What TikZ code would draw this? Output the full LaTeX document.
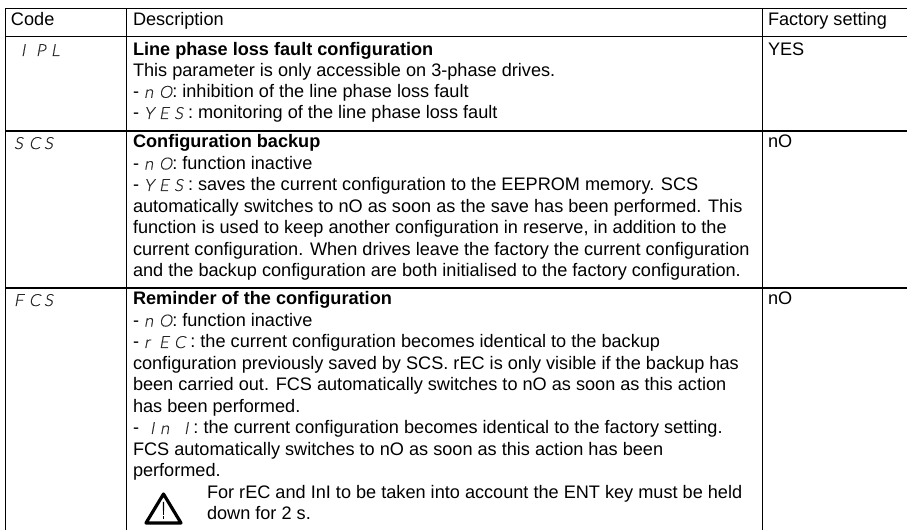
\documentclass[tikz,border=0pt]{standalone}
\usepackage{fontspec}
\setmainfont{Liberation Sans}
\newfontfamily\segf{Lato Light}[FakeSlant=0.18,FakeBold=0.6]
\newcommand{\sgc}[2][11.25pt]{\makebox[#1][l]{#2}}
\newcommand{\sg}[1]{{\segf\fontsize{12.5pt}{13pt}\selectfont\color{black!85}#1}}
\tikzset{
  px/.style={x=0.75pt,y=-0.75pt},
  rulex/.style={line width=0.95pt,black},
  txt/.style={anchor=base west,inner sep=0pt,outer sep=0pt,font=\fontsize{13.6pt}{16pt}\selectfont,text=black},
  seg/.style={anchor=base west,inner sep=0pt,outer sep=0pt,text=black}
}
\begin{document}
\begin{tikzpicture}[px]
\useasboundingbox (0,0) rectangle (907,530);
\fill[white] (0,0) rectangle (907,530);
\draw[rulex] (5.5,8.5) -- (907,8.5);
\draw[rulex] (5.5,36.5) -- (907,36.5);
\draw[rulex] (5.5,131) -- (907,131);
\draw[rulex] (5.5,288) -- (907,288);
\draw[rulex] (5.5,8.5) -- (5.5,530);
\draw[rulex] (126.5,8.5) -- (126.5,530);
\draw[rulex] (762.5,8.5) -- (762.5,530);
\node[txt] (h1) at (11,25.5) {Code};
\node[txt] (h2) at (133,25.5) {Description};
\node[txt] (h3) at (768,25.5) {Factory setting};
\node[seg] (c1) at (21,56) {\sg{\sgc{I}\sgc{P}L}};
\node[seg] (c2) at (14,149) {\sg{\sgc{S}\sgc{C}S}};
\node[seg] (c3) at (14,306) {\sg{\sgc{F}\sgc{C}S}};
\node[txt] (f1) at (768,55.5) {YES};
\node[txt] (f2) at (768,148) {nO};
\node[txt] (f3) at (768,305) {nO};
\node[txt] (a1) at (133,55.5) {\bfseries Line phase loss fault configuration};
\node[txt] (a2) at (133,76.5) {This parameter is only accessible on 3-phase drives.};
\node[txt] (a3) at (133,97.8) {- \sg{\sgc{n}O}: inhibition of the line phase loss fault};
\node[txt] (a4) at (133,119) {- \sg{\sgc{Y}\sgc{E}S} : monitoring of the line phase loss fault};
\node[txt] (b1) at (133,148) {\bfseries Configuration backup};
\node[txt] (b2) at (133,169.5) {- \sg{\sgc{n}O}: function inactive};
\node[txt] (b3) at (133,191) {- \sg{\sgc{Y}\sgc{E}S} : saves the current configuration to the EEPROM memory. SCS};
\node[txt] (b4) at (133,212.5) {automatically switches to nO as soon as the save has been performed. This};
\node[txt] (b5) at (133,234) {function is used to keep another configuration in reserve, in addition to the};
\node[txt] (b6) at (133,255.5) {current configuration. When drives leave the factory the current configuration};
\node[txt] (b7) at (133,277) {and the backup configuration are both initialised to the factory configuration.};
\node[txt] (d1) at (133,305) {\bfseries Reminder of the configuration};
\node[txt] (d2) at (133,326.5) {- \sg{\sgc{n}O}: function inactive};
\node[txt] (d3) at (133,348) {- \sg{\sgc{r}\sgc{E}C} : the current configuration becomes identical to the backup};
\node[txt] (d4) at (133,369.5) {configuration previously saved by SCS. rEC is only visible if the backup has};
\node[txt] (d5) at (133,391) {been carried out. FCS automatically switches to nO as soon as this action};
\node[txt] (d6) at (133,412.5) {has been performed.};
\node[txt] (d7) at (133,434) {- \hspace{4.5pt}\sg{\sgc[7.5pt]{I}\sgc[18pt]{n}I} : the current configuration becomes identical to the factory setting.};
\node[txt] (d8) at (133,455.5) {FCS automatically switches to nO as soon as this action has been};
\node[txt] (d9) at (133,477) {performed.};
\node[txt] (d10) at (207,498.5) {For rEC and InI to be taken into account the ENT key must be held};
\node[txt] (d11) at (207,520) {down for 2 s.};
\draw[line width=2.4pt,line join=round] (163.5,494) -- (146,523) -- (181,523) -- cycle;
\fill (162.8,502) -- (164.2,502) -- (163.9,515) -- (163.1,515) -- cycle;
\draw[line width=0.9pt] (163.5,516.5) -- (163.5,519.5);
\end{tikzpicture}
\end{document}
